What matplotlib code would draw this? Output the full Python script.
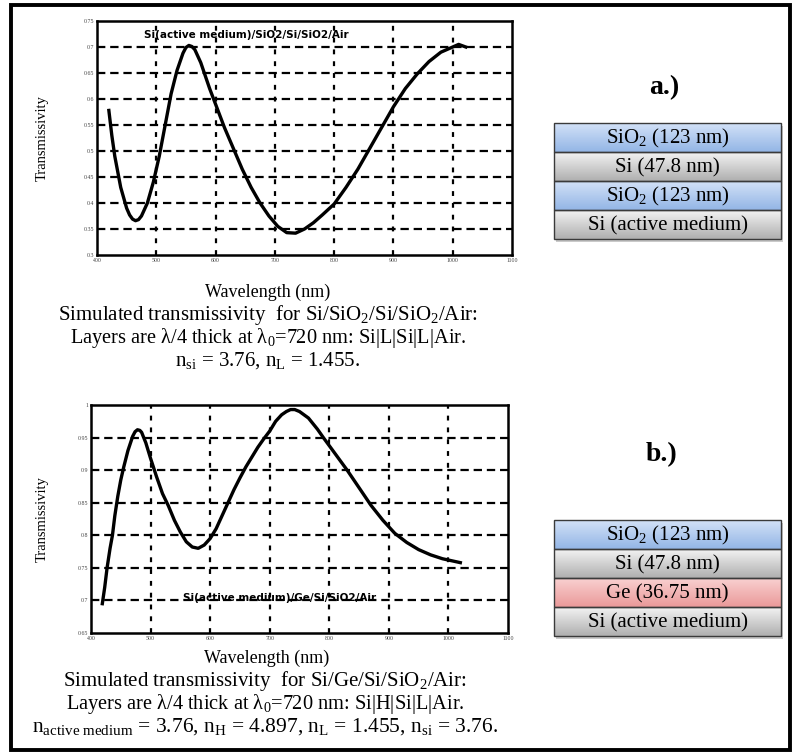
import numpy as np
import matplotlib
matplotlib.use('Agg')
import matplotlib.pyplot as plt
from matplotlib.patches import Rectangle

plt.rcParams['font.family'] = 'Liberation Serif'
plt.rcParams['mathtext.fontset'] = 'custom'
plt.rcParams['mathtext.rm'] = 'Liberation Serif'
plt.rcParams['mathtext.it'] = 'Liberation Serif:italic'
plt.rcParams['lines.scale_dashes'] = False

# Daten
wl_a = [420, 425, 430, 440, 450, 455, 460, 465, 470, 475, 485, 495, 505, 515, 525, 535,
        545, 550, 555, 560, 565, 575, 590, 600, 615, 630, 645, 660, 675, 690, 705, 720,
        735, 750, 765, 780, 800, 820, 840, 860, 880, 900, 920, 940, 960, 980, 1000, 1010,
        1022]
T_a = [0.578, 0.53, 0.49, 0.43, 0.39, 0.377, 0.369, 0.366, 0.368, 0.375, 0.40, 0.44, 0.49,
       0.55, 0.61, 0.655, 0.688, 0.699, 0.703, 0.701, 0.695, 0.67, 0.62, 0.59, 0.545, 0.505,
       0.465, 0.43, 0.40, 0.375, 0.355, 0.343, 0.342, 0.35, 0.362, 0.377, 0.398, 0.43,
       0.465, 0.505, 0.545, 0.585, 0.62, 0.648, 0.672, 0.69, 0.70, 0.705, 0.70]

wl_b = [419, 423, 427, 432, 436, 440, 445, 450, 455, 462, 470, 474, 478, 482, 485, 492,
        500, 510, 520, 530, 540, 550, 560, 570, 580, 590, 600, 610, 620, 630, 640, 650,
        660, 670, 680, 690, 700, 710, 720, 728, 735, 742, 750, 765, 780, 790, 810, 830,
        850, 870, 890, 910, 930, 950, 970, 990, 1005, 1020]
T_b = [0.695, 0.72, 0.75, 0.78, 0.80, 0.83, 0.86, 0.885, 0.905, 0.93, 0.952, 0.959, 0.962,
       0.961, 0.958, 0.942, 0.918, 0.89, 0.864, 0.845, 0.823, 0.805, 0.79, 0.782, 0.78,
       0.785, 0.795, 0.81, 0.83, 0.85, 0.87, 0.888, 0.905, 0.92, 0.935, 0.948, 0.96, 0.975,
       0.985, 0.99, 0.993, 0.993, 0.99, 0.98, 0.963, 0.95, 0.925, 0.90, 0.873, 0.846,
       0.823, 0.803, 0.789, 0.778, 0.77, 0.764, 0.761, 0.758]

xticks = [400, 500, 600, 700, 800, 900, 1000, 1100]
yticks_a = [0.3, 0.35, 0.4, 0.45, 0.5, 0.55, 0.6, 0.65, 0.7, 0.75]
yticks_b = [0.65, 0.7, 0.75, 0.8, 0.85, 0.9, 0.95, 1.0]

layers_a = ['SiO$_\\mathrm{2}$ (123 nm)', 'Si (47.8 nm)', 'SiO$_\\mathrm{2}$ (123 nm)', 'Si (active medium)']
mat_a = ['SiO2', 'Si', 'SiO2', 'Si']
layers_b = ['SiO$_\\mathrm{2}$ (123 nm)', 'Si (47.8 nm)', 'Ge (36.75 nm)', 'Si (active medium)']
mat_b = ['SiO2', 'Si', 'Ge', 'Si']

farben = {'SiO2': ('#d2e1f7', '#94b6e6'),
          'Si': ('#f2f2f2', '#b0b0b0'),
          'Ge': ('#f9d0d0', '#ea9a9a')}

W, H = 793, 753
fig = plt.figure(figsize=(W / 100, H / 100), dpi=100)


def px_axes(l, t, r, b):
    return fig.add_axes([l / W, 1 - b / H, (r - l) / W, (b - t) / H])


def diagramm(ax, wl, T, yticks, note, note_xy):
    ax.plot(wl, T, color='black', lw=2.4, zorder=3, solid_joinstyle='round')
    ax.set_xlim(400, 1100)
    ax.set_ylim(yticks[0], yticks[-1])
    ax.set_xticks(xticks)
    ax.set_xticklabels([str(v) for v in xticks])
    ax.set_yticks(yticks)
    ax.set_yticklabels(['%g' % v for v in yticks])
    for v in xticks[1:-1]:
        ax.axvline(v, color='black', lw=1.6, ls=(0, (3.5, 5)), zorder=1)
    for v in yticks[1:-1]:
        ax.axhline(v, color='black', lw=1.6, ls=(0, (6, 3.5)), zorder=1)
    for s in ax.spines.values():
        s.set_linewidth(1.8)
    ax.tick_params(length=0, labelsize=4.2, labelcolor='#444444', pad=2)
    ax.text(note_xy[0], note_xy[1], note, fontsize=7.5, fontweight='bold',
            family='DejaVu Sans', va='center', zorder=4)


ax_a = px_axes(97, 21, 512, 255)
diagramm(ax_a, wl_a, T_a, yticks_a, 'Si(active medium)/SiO2/Si/SiO2/Air', (480, 0.723))

ax_b = px_axes(91, 405, 508, 633)
diagramm(ax_b, wl_b, T_b, yticks_b, 'Si(active medium)/Ge/Si/SiO2/Air', (555, 0.703))

# Overlay fuer Rahmen, Texte und Schichtstapel
ov = fig.add_axes([0, 0, 1, 1], zorder=10)
ov.patch.set_alpha(0)
ov.axis('off')


def stapel(top, namen, mats):
    x0, x1, h = 554, 781, 29
    ov.add_patch(Rectangle((x0 + 2, top + 3), x1 - x0, h * len(namen), color='#a8a8a8', alpha=0.6, lw=0))
    for i, (n, m) in enumerate(zip(namen, mats)):
        y0 = top + i * h
        c1, c2 = [np.array(matplotlib.colors.to_rgb(c)) for c in farben[m]]
        t = np.linspace(0, 1, 30)[:, None]
        grad = (c1 * (1 - t) + c2 * t)[:, None, :]
        ov.imshow(grad, extent=[x0, x1, y0 + h, y0], aspect='auto', zorder=2)
        ov.add_patch(Rectangle((x0, y0), x1 - x0, h, fill=False, ec='#3a3a3a', lw=1.0, zorder=3))
        ov.text((x0 + x1) / 2, y0 + h / 2 + 1, n, ha='center', va='center', fontsize=15, zorder=4)


stapel(123, layers_a, mat_a)
stapel(520, layers_b, mat_b)

ov.text(664, 88, 'a.)', ha='center', va='center', fontsize=20, fontweight='bold')
ov.text(662, 455, 'b.)', ha='center', va='center', fontsize=20, fontweight='bold')

ov.text(42, 138, 'Transmissivity', rotation=90, ha='center', va='center', fontsize=10.5)
ov.text(42, 519, 'Transmissivity', rotation=90, ha='center', va='center', fontsize=10.5)

zeilen_a = ['Simulated transmissivity  for Si/SiO$_\\mathrm{2}$/Si/SiO$_\\mathrm{2}$/Air:',
            'Layers are \u03bb/4 thick at \u03bb$_\\mathrm{0}$=720 nm: Si|L|Si|L|Air.',
            'n$_\\mathrm{si}$ = 3.76, n$_\\mathrm{L}$ = 1.455.']
zeilen_b = ['Simulated transmissivity  for Si/Ge/Si/SiO$_\\mathrm{2}$/Air:',
            'Layers are \u03bb/4 thick at \u03bb$_\\mathrm{0}$=720 nm: Si|H|Si|L|Air.',
            'n$_\\mathrm{active\\ medium}$ = 3.76, n$_\\mathrm{H}$ = 4.897, n$_\\mathrm{L}$ = 1.455, n$_\\mathrm{si}$ = 3.76.']
groessen_a = [15, 14.7, 15]
groessen_b = [15, 14.7, 15.5]
ov.text(268, 292, 'Wavelength (nm)', ha='center', va='center', fontsize=13)
ov.text(267, 658, 'Wavelength (nm)', ha='center', va='center', fontsize=13)
for i, z in enumerate(zeilen_a):
    ov.text(268, 315 + i * 23, z, ha='center', va='center', fontsize=groessen_a[i])
for i, z in enumerate(zeilen_b):
    ov.text(265, 681 + i * 23, z, ha='center', va='center', fontsize=groessen_b[i])

ov.add_patch(Rectangle((11, 5), 779, 745, fill=False, ec='black', lw=2.8))
ov.set_xlim(0, W)
ov.set_ylim(H, 0)

fig.savefig('out.png', dpi=100)
